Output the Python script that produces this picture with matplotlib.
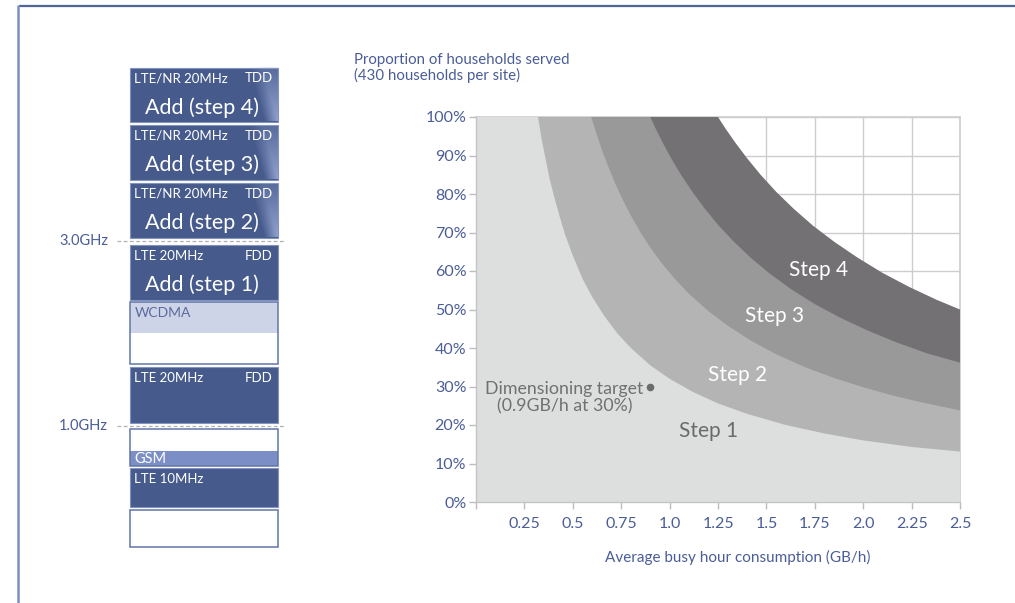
import numpy as np
import matplotlib
matplotlib.use("Agg")
import matplotlib.pyplot as plt
from matplotlib.patches import Rectangle

plt.rcParams['font.family'] = ['Lato', 'DejaVu Sans']

# ---- Coverage chart data -------------------------------------------------
# Upper boundary of each step: average busy-hour consumption (GB/h) vs
# proportion of households served (%)
step1_x = [0.32, 0.34, 0.36, 0.38, 0.40, 0.43, 0.46, 0.50, 0.55, 0.60, 0.66,
           0.73, 0.80, 0.90, 1.00, 1.12, 1.25, 1.40, 1.60, 1.80, 2.00, 2.25, 2.50]
step1_y = [100, 94, 89, 84, 80, 74.5, 69.5, 64, 58, 53.3, 48.5,
           43.8, 40, 35.5, 32, 28.6, 25.6, 22.9, 20, 17.8, 16, 14.3, 13.1]

step2_x = [0.595, 0.62, 0.65, 0.68, 0.72, 0.76, 0.80, 0.85, 0.90, 0.96, 1.03,
           1.10, 1.20, 1.30, 1.42, 1.55, 1.70, 1.85, 2.00, 2.15, 2.30, 2.50]
step2_y = [100, 96, 91.5, 87.5, 82.6, 78.3, 74.4, 70, 66.1, 62, 57.8,
           54.1, 49.6, 45.8, 41.9, 38.4, 35, 32.2, 29.8, 27.7, 25.9, 23.8]

step3_x = [0.90, 0.93, 0.97, 1.01, 1.06, 1.12, 1.18, 1.25, 1.33, 1.42, 1.52,
           1.63, 1.75, 1.88, 2.02, 2.17, 2.33, 2.50]
step3_y = [100, 96.8, 92.8, 89.1, 84.9, 80.4, 76.3, 72, 67.7, 63.4, 59.2,
           55.2, 51.4, 47.9, 44.6, 41.5, 38.6, 36.2]

step4_x = [1.25, 1.29, 1.34, 1.40, 1.47, 1.55, 1.64, 1.74, 1.85, 1.97, 2.10,
           2.24, 2.38, 2.50]
step4_y = [100, 96.9, 93.3, 89.3, 85, 80.6, 76.2, 71.8, 67.6, 63.5, 59.5,
           55.8, 52.5, 50]

step_names = ['Step 1', 'Step 2', 'Step 3', 'Step 4']

x_ticks = [0.25, 0.5, 0.75, 1.0, 1.25, 1.5, 1.75, 2.0, 2.25, 2.5]
x_tick_labels = ['0.25', '0.5', '0.75', '1.0', '1.25', '1.5', '1.75', '2.0', '2.25', '2.5']
y_ticks = [0, 10, 20, 30, 40, 50, 60, 70, 80, 90, 100]
y_tick_labels = ['0%', '10%', '20%', '30%', '40%', '50%', '60%', '70%', '80%', '90%', '100%']

target_x = 0.9
target_y = 30
target_text = 'Dimensioning target\n(0.9GB/h at 30%)'

# ---- Spectrum stack data (top to bottom) ---------------------------------
band_names = ['LTE/NR 20MHz', 'LTE/NR 20MHz', 'LTE/NR 20MHz', 'LTE 20MHz',
              'WCDMA', 'LTE 20MHz', 'GSM', 'LTE 10MHz', '']
band_duplex = ['TDD', 'TDD', 'TDD', 'FDD', '', 'FDD', '', '', '']
band_action = ['Add (step 4)', 'Add (step 3)', 'Add (step 2)', 'Add (step 1)',
               '', '', '', '', '']
freq_marks = ['3.0GHz', '1.0GHz']

# ---- Styles ---------------------------------------------------------------
BLUE = '#465b8c'
TEXT_BLUE = '#4b5d98'
GRID = '#cdcdcd'
fills = ['#dddfde', '#b4b4b4', '#999999', '#747174']

fig = plt.figure(figsize=(10.15, 6.03), dpi=100)

# Frame lines in pixel space, plus the spectrum stack
ov = fig.add_axes([0, 0, 1, 1])
ov.set_xlim(0, 1015)
ov.set_ylim(603, 0)
ov.axis('off')
ov.plot([19, 1015], [5.5, 5.5], color='#4f6499', lw=1.6, solid_capstyle='butt')
ov.plot([18.5, 18.5], [5, 603], color='#7d90c2', lw=1.8, solid_capstyle='butt')

bx0, bx1 = 130, 278
# (top, bottom, kind) for each block, top to bottom
block_layout = [(67.5, 122, 'dark'), (125, 180, 'dark'), (183, 238, 'dark'),
                (245, 300, 'dark'), (302, 364, 'wcdma'), (367, 423, 'dark'),
                (429, 466, 'gsm'), (468, 507, 'dark'), (510, 547, 'empty')]

for i, (t, b, kind) in enumerate(block_layout):
    h = b - t
    if kind == 'dark':
        ov.add_patch(Rectangle((bx0, t), bx1 - bx0, h, facecolor=BLUE,
                               edgecolor='#8393c0', lw=0.8))
        if band_duplex[i] == 'TDD':
            # light sheen at the right edge
            nx, ny = 40, 30
            u = np.linspace(0, 1, nx)[None, :]
            v = np.linspace(0, 1, ny)[:, None]
            a = np.clip((u - 0.6 + 0.45 * (1 - v)) / 0.4, 0, 1) * (0.25 + 0.75 * v)
            img = np.zeros((ny, nx, 4))
            img[..., 0] = 0x9d / 255
            img[..., 1] = 0xad / 255
            img[..., 2] = 0xd8 / 255
            img[..., 3] = a * 0.85
            ov.imshow(img, extent=(bx1 - 34, bx1 - 0.6, b - 0.6, t + 0.6),
                      aspect='auto', interpolation='bilinear', zorder=2)
        ov.text(bx0 + 4.5, t + 11, band_names[i], color='white', fontsize=9.5,
                va='center', ha='left', zorder=3)
        if band_duplex[i]:
            ov.text(bx1 - 5, t + 11, band_duplex[i], color='white', fontsize=9.5,
                    va='center', ha='right', zorder=3)
        if band_action[i]:
            ov.text(bx0 + 72, t + 40, band_action[i], color='white', fontsize=15.5,
                    va='center', ha='center', zorder=3)
    elif kind == 'wcdma':
        ov.add_patch(Rectangle((bx0, t), bx1 - bx0, 30.5, facecolor='#ced4e8',
                               edgecolor='none'))
        ov.add_patch(Rectangle((bx0, t), bx1 - bx0, h, facecolor='none',
                               edgecolor='#6075a8', lw=1.1))
        ov.text(bx0 + 4.5, t + 11, band_names[i], color='#5a6a9e', fontsize=10,
                va='center', ha='left')
    elif kind == 'gsm':
        ov.add_patch(Rectangle((bx0, t + 22), bx1 - bx0, h - 22, facecolor='#7b8ec6',
                               edgecolor='none'))
        ov.add_patch(Rectangle((bx0, t), bx1 - bx0, h, facecolor='none',
                               edgecolor='#6075a8', lw=1.1))
        ov.text(bx0 + 4.5, t + 30, band_names[i], color='white', fontsize=10.5,
                va='center', ha='left')
    else:
        ov.add_patch(Rectangle((bx0, t), bx1 - bx0, h, facecolor='white',
                               edgecolor='#6075a8', lw=1.1))

for label, yy in zip(freq_marks, [241, 426]):
    ov.plot([117, 285], [yy, yy], color='#b0b0b0', lw=0.9, ls=(0, (3, 2)))
    ov.text(108, yy, label, color=TEXT_BLUE, fontsize=10.5, ha='right', va='center')

# ---- Coverage chart -------------------------------------------------------
ax = fig.add_axes([476 / 1015, 1 - 502 / 603, 484 / 1015, 385 / 603])
ax.set_xlim(0, 2.5)
ax.set_ylim(0, 100)

curves = [(step1_x, step1_y), (step2_x, step2_y), (step3_x, step3_y), (step4_x, step4_y)]
for k in [3, 2, 1, 0]:
    xs, ys = curves[k]
    px = [0, 0] + list(xs) + [2.5]
    py = [0, 100] + list(ys) + [0]
    ax.fill(px, py, color=fills[k], lw=0, zorder=1 + (3 - k) * 0.1)

ax.set_xticks([0] + x_ticks)
ax.set_xticklabels([''] + x_tick_labels)
ax.set_yticks(y_ticks)
ax.set_yticklabels(y_tick_labels)
ax.grid(True, color=GRID, lw=1.0, zorder=0)
ax.set_axisbelow(True)
ax.axhline(100, color=GRID, lw=1.2, zorder=0.5, clip_on=False)
ax.axvline(2.5, color=GRID, lw=1.2, zorder=0.5, clip_on=False)
for s in ['top', 'right']:
    ax.spines[s].set_visible(False)
for s in ['left', 'bottom']:
    ax.spines[s].set_color('#c4c4c4')
    ax.spines[s].set_linewidth(1.0)
    ax.spines[s].set_zorder(3)
ax.tick_params(axis='both', colors='#bdbdbd', labelcolor=TEXT_BLUE,
               labelsize=11.5, length=5, width=1)
ax.tick_params(axis='x', pad=6)
ax.tick_params(axis='y', pad=2)

# Step labels
step_pos = [(1.20, 18.4), (1.35, 33), (1.54, 48.2), (1.77, 60.3)]
step_cols = ['#6a6a6a', 'white', 'white', 'white']
for name, (sx, sy), c in zip(step_names, step_pos, step_cols):
    ax.text(sx, sy, name, color=c, fontsize=15, ha='center', va='center', zorder=5)

# Dimensioning target
ax.scatter([target_x], [target_y], s=30, color='#6b6b6b', zorder=6, lw=0)
ax.text(target_x - 0.035, target_y - 2.9, target_text, color='#707070', fontsize=12.8,
        ha='right', va='center', multialignment='center', linespacing=1.05, zorder=6)

fig.text(354 / 1015, 1 - 68 / 603, 'Proportion of households served\n(430 households per site)',
         color=TEXT_BLUE, fontsize=10.8, ha='left', va='center', linespacing=1.1)
fig.text(738 / 1015, 1 - 557 / 603, 'Average busy hour consumption (GB/h)',
         color=TEXT_BLUE, fontsize=11, ha='center', va='center')

fig.savefig('out.png', dpi=100, facecolor='white')
